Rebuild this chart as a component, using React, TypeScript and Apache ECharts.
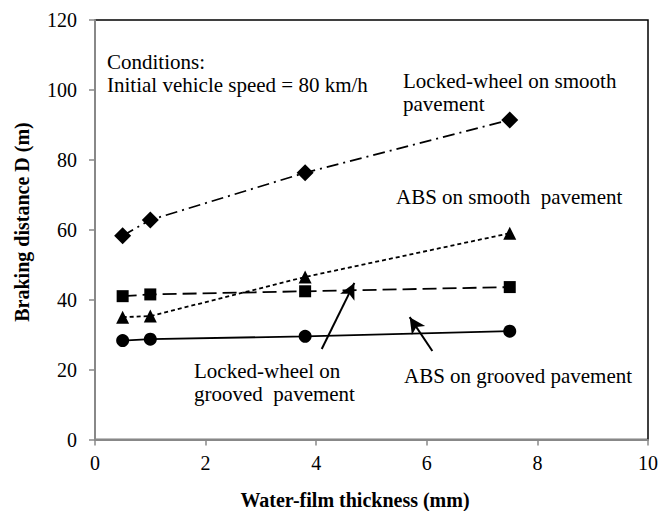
import React, { useEffect, useRef } from "react";
import * as echarts from "echarts";

const xValues = [0.5, 1, 3.8, 7.5];
const lockedSmooth = [58.3, 62.8, 76.3, 91.4];
const absSmooth = [35.0, 35.3, 46.5, 59.0];
const lockedGrooved = [41.0, 41.5, 42.4, 43.6];
const absGrooved = [28.3, 28.7, 29.5, 31.0];

const xTicks = [0, 2, 4, 6, 8, 10];
const yTicks = [0, 20, 40, 60, 80, 100, 120];

// arrow annotations (data coordinates: [from, to])
const arrowLockedGrooved = [[4.1, 25.9], [4.69, 44.8]];
const arrowAbsGrooved = [[6.1, 25.3], [5.69, 35.0]];

const FONT = "Liberation Serif";

export default function App() {
  const ref = useRef<HTMLDivElement>(null);
  useEffect(() => {
    if (!ref.current) return;
    const chart = echarts.init(ref.current, null, { renderer: "svg" });
    const pair = (ys: number[]) => xValues.map((x, i) => [x, ys[i]]);
    const mk = (a: number[][]) => [
      { coord: a[0], symbol: "none" },
      { coord: a[1], symbol: "arrow", symbolSize: [12, 16] },
    ];
    const note = (text: string, x: number, y: number) => ({
      type: "text",
      x,
      y,
      style: {
        text,
        fontSize: 21,
        fontFamily: FONT,
        fill: "#000",
        verticalAlign: "middle",
        lineHeight: 23,
      },
    });
    chart.setOption({
      animation: false,
      backgroundColor: "#fff",
      textStyle: { fontFamily: FONT },
      grid: {
        left: 95,
        right: 12,
        top: 20,
        bottom: 71.5,
        show: true,
        borderColor: "#000",
        borderWidth: 1.5,
      },
      xAxis: {
        type: "value",
        min: xTicks[0],
        max: xTicks[xTicks.length - 1],
        interval: 2,
        axisLine: { show: true, onZero: false, lineStyle: { color: "#888", width: 2 } },
        axisTick: { show: true, length: 6, lineStyle: { color: "#888", width: 1.5 } },
        axisLabel: { fontSize: 20, fontFamily: FONT, color: "#000", margin: 13 },
        splitLine: { show: false },
      },
      yAxis: {
        type: "value",
        min: yTicks[0],
        max: yTicks[yTicks.length - 1],
        interval: 20,
        axisLine: { show: true, onZero: false, lineStyle: { color: "#888", width: 2 } },
        axisTick: { show: true, length: 6, lineStyle: { color: "#888", width: 1.5 } },
        axisLabel: { fontSize: 20, fontFamily: FONT, color: "#000", margin: 18 },
        splitLine: { show: false },
      },
      series: [
        {
          name: "Locked-wheel on smooth pavement",
          type: "line",
          data: pair(lockedSmooth),
          symbol: "diamond",
          symbolSize: 17,
          itemStyle: { color: "#000" },
          lineStyle: { color: "#000", width: 1.8, type: [12, 5, 2, 5] },
        },
        {
          name: "ABS on smooth pavement",
          type: "line",
          data: pair(absSmooth),
          symbol: "triangle",
          symbolSize: 13,
          itemStyle: { color: "#000" },
          lineStyle: { color: "#000", width: 1.8, type: [4, 3] },
        },
        {
          name: "Locked-wheel on grooved pavement",
          type: "line",
          data: pair(lockedGrooved),
          symbol: "rect",
          symbolSize: 12,
          itemStyle: { color: "#000" },
          lineStyle: { color: "#000", width: 1.8, type: [14, 6] },
        },
        {
          name: "ABS on grooved pavement",
          type: "line",
          data: pair(absGrooved),
          symbol: "circle",
          symbolSize: 13,
          itemStyle: { color: "#000" },
          lineStyle: { color: "#000", width: 1.8, type: "solid" },
          markLine: {
            silent: true,
            label: { show: false },
            lineStyle: { color: "#000", width: 2, type: "solid" },
            data: [mk(arrowLockedGrooved), mk(arrowAbsGrooved)],
          },
        },
      ],
      graphic: [
        note("Conditions:\nInitial vehicle speed = 80 km/h", 107, 73),
        note("Locked-wheel on smooth\npavement", 403, 92),
        note("ABS on smooth  pavement", 396, 197),
        note("Locked-wheel on\ngrooved  pavement", 194, 382),
        note("ABS on grooved pavement", 404, 376),
        {
          type: "text",
          x: 355,
          y: 500,
          style: {
            text: "Water-film thickness (mm)",
            fontSize: 20,
            fontWeight: "bold",
            fontFamily: FONT,
            fill: "#000",
            align: "center",
            verticalAlign: "middle",
          },
        },
        {
          type: "text",
          x: 22,
          y: 222,
          rotation: Math.PI / 2,
          style: {
            text: "Braking distance D (m)",
            fontSize: 20,
            fontWeight: "bold",
            fontFamily: FONT,
            fill: "#000",
            align: "center",
            verticalAlign: "middle",
          },
        },
      ],
    });
    return () => chart.dispose();
  }, []);
  return (
    <div
      ref={ref}
      style={{ position: "fixed", left: 0, top: 0, width: 661, height: 511 }}
    />
  );
}
